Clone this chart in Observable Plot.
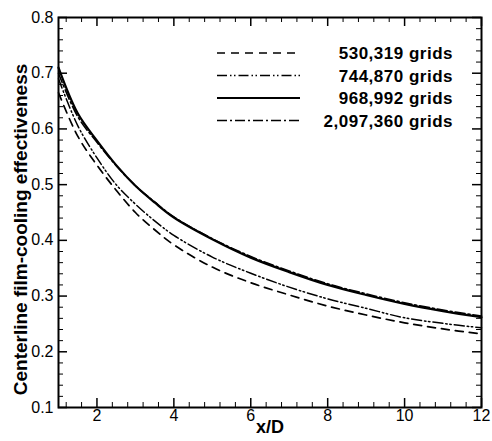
<!DOCTYPE html>
<html>
<head>
<meta charset="utf-8">
<script src="https://cdn.jsdelivr.net/npm/d3@7"></script>
<script src="https://cdn.jsdelivr.net/npm/@observablehq/plot@0.6"></script>
<style>
  html, body { margin: 0; padding: 0; background: #fff; }
  svg { font-family: "Liberation Sans", Arial, sans-serif; }
</style>
</head>
<body>
<div id="chart"></div>
<script>
// x/D stations
const xD = [1, 1.5, 2, 2.5, 3, 3.5, 4, 5, 6, 7, 8, 9, 10, 11, 12];
// centerline film-cooling effectiveness per grid
const eta530k  = [0.665, 0.587, 0.535, 0.490, 0.450, 0.419, 0.392, 0.352, 0.324, 0.302, 0.282, 0.266, 0.252, 0.241, 0.232];
const eta745k  = [0.690, 0.606, 0.548, 0.500, 0.465, 0.435, 0.409, 0.370, 0.341, 0.316, 0.295, 0.278, 0.261, 0.251, 0.243];
const eta969k  = [0.710, 0.628, 0.579, 0.535, 0.498, 0.468, 0.441, 0.402, 0.369, 0.343, 0.320, 0.302, 0.286, 0.273, 0.262];
const eta2097k = [0.700, 0.622, 0.576, 0.534, 0.498, 0.469, 0.442, 0.403, 0.371, 0.345, 0.322, 0.304, 0.288, 0.275, 0.264];
const seriesNames = ["530,319 grids", "744,870 grids", "968,992 grids", "2,097,360 grids"];
const seriesValues = [eta530k, eta745k, eta969k, eta2097k];
const dashes = ["8,6", "10,3,1.5,2.5,1.5,3", null, "10,3,2,3"];
const widths = [1.7, 1.5, 2.2, 1.6];

const xMajor = [2, 4, 6, 8, 10, 12];
const xMinor = d3.range(1.2, 12.01, 0.4).filter(v => Math.abs(v / 2 - Math.round(v / 2)) > 1e-6);
const yMajor = [0.1, 0.2, 0.3, 0.4, 0.5, 0.6, 0.7, 0.8];
const yMinor = d3.range(0.12, 0.8, 0.02).filter(v => Math.abs(v * 10 - Math.round(v * 10)) > 1e-6);
const xTitle = "x/D";
const yTitle = "Centerline film-cooling effectiveness";

const rows = seriesNames.flatMap((name, i) => xD.map((x, j) => ({name, i, x, y: seriesValues[i][j]})));

const W = 492, H = 441;
const mL = 58, mR = 11, mT = 17, mB = 34;
const fh = H - mT - mB, fw = W - mL - mR;
const maj = 9, mino = 5;
const FF = "Liberation Sans, Arial, sans-serif";

function legend(index, scales, values, dims) {
  const g = d3.create("svg:g");
  seriesNames.forEach((name, i) => {
    const y = 53 + i * 22.5;
    g.append("line").attr("x1", 217).attr("x2", 300).attr("y1", y).attr("y2", y)
      .attr("stroke", "#000").attr("stroke-width", widths[i])
      .attr("stroke-dasharray", dashes[i]);
    g.append("text").attr("x", 453).attr("y", y).attr("dy", "0.36em")
      .attr("text-anchor", "end").attr("font-size", 17).attr("font-weight", "bold")
      .attr("letter-spacing", "0.5px")
      .attr("font-family", FF).text(name);
  });
  return g.node();
}

const marks = [];
seriesNames.forEach((name, i) => {
  marks.push(Plot.line(rows.filter(d => d.i === i), {
    x: "x", y: "y", stroke: "#000", strokeWidth: widths[i],
    strokeDasharray: dashes[i] || undefined, curve: "catmull-rom"
  }));
});
// inward ticks on all four sides
marks.push(
  Plot.tickX(xMajor, {x: d => d, insetTop: fh - maj, stroke: "#000", strokeWidth: 1.5}),
  Plot.tickX(xMinor, {x: d => d, insetTop: fh - mino, stroke: "#000", strokeWidth: 1}),
  Plot.tickX(xMajor, {x: d => d, insetBottom: fh - maj, stroke: "#000", strokeWidth: 1.5}),
  Plot.tickX(xMinor, {x: d => d, insetBottom: fh - mino, stroke: "#000", strokeWidth: 1}),
  Plot.tickY(yMajor, {y: d => d, insetRight: fw - maj, stroke: "#000", strokeWidth: 1.5}),
  Plot.tickY(yMinor, {y: d => d, insetRight: fw - mino, stroke: "#000", strokeWidth: 1}),
  Plot.tickY(yMajor, {y: d => d, insetLeft: fw - maj, stroke: "#000", strokeWidth: 1.5}),
  Plot.tickY(yMinor, {y: d => d, insetLeft: fw - mino, stroke: "#000", strokeWidth: 1}),
  Plot.frame({stroke: "#000", strokeWidth: 2}),
  Plot.text(xMajor, {x: d => d, text: d => String(d), frameAnchor: "bottom", lineAnchor: "top", dy: 2, fontSize: 16, fontFamily: FF, fill: "#000"}),
  Plot.text(yMajor, {y: d => d, text: d => d.toFixed(1), frameAnchor: "left", textAnchor: "end", dx: -5, fontSize: 16, fontFamily: FF, fill: "#000"}),
  Plot.text([xTitle], {text: d => d, frameAnchor: "bottom", textAnchor: "middle", lineAnchor: "top", dy: 13, fontSize: 18, fontWeight: "bold", fontFamily: FF, fill: "#000"}),
  Plot.text([yTitle], {text: d => d, frameAnchor: "left", textAnchor: "middle", lineAnchor: "middle", rotate: -90, dx: -38, dy: 17, fontSize: 19, fontWeight: "bold", fontFamily: FF, fill: "#000", style: "letter-spacing:0.3px"}),
  legend
);

const chart = Plot.plot({
  width: W, height: H,
  marginLeft: mL, marginRight: mR, marginTop: mT, marginBottom: mB,
  style: {fontFamily: FF, fontSize: "15px", color: "#000", background: "#fff"},
  x: {domain: [1, 12], axis: null},
  y: {domain: [0.1, 0.8], axis: null},
  marks
});
document.getElementById("chart").appendChild(chart);
</script>
</body>
</html>
